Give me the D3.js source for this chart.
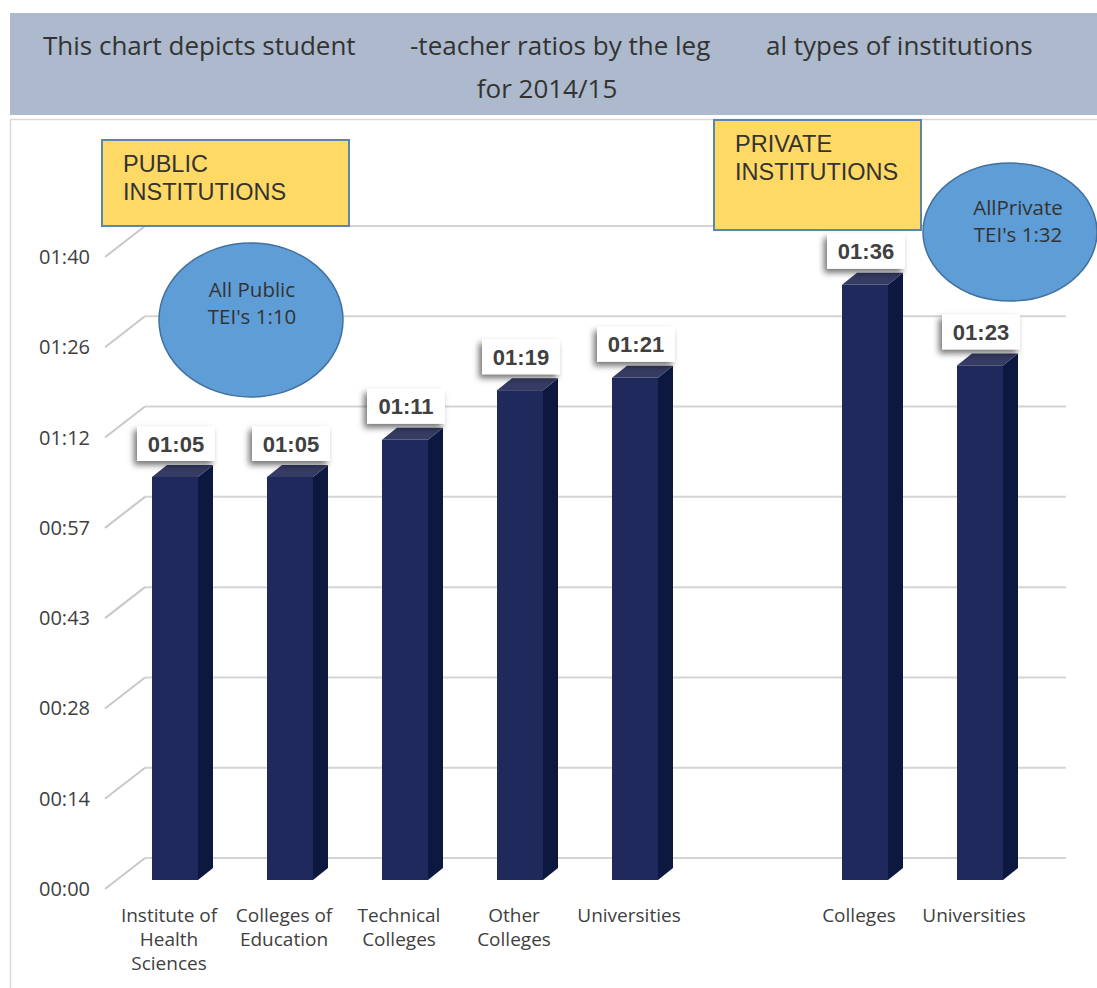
<!DOCTYPE html>
<html>
<head>
<meta charset="utf-8">
<script src="https://cdn.jsdelivr.net/npm/d3@7/dist/d3.min.js"></script>
<style>
  html, body { margin: 0; padding: 0; background: #ffffff; }
  svg { display: block; }
</style>
</head>
<body>
<svg id="chart" width="1097" height="988"></svg>
<script>
// ---------------- DATA ----------------
const sectors = ["Public", "Public", "Public", "Public", "Public", "Private", "Private"];
const categories = [
  ["Institute of", "Health", "Sciences"],
  ["Colleges of", "Education"],
  ["Technical", "Colleges"],
  ["Other", "Colleges"],
  ["Universities"],
  ["Colleges"],
  ["Universities"]
];
// ratios as shown (formatted by Excel as h:mm), stored in minutes
const values = [65, 65, 71, 79, 81, 96, 83];
// axis ticks (0.01 day steps, in minutes) and their labels
const tickValues = [0, 14.4, 28.8, 43.2, 57.6, 72, 86.4, 100.8];
const tickLabels = ["00:00", "00:14", "00:28", "00:43", "00:57", "01:12", "01:26", "01:40"];
const titleLine1 = ["This chart depicts student", "-teacher ratios by the leg", "al types of institutions"];
const titleLine2 = "for 2014/15";
const groupTitles = [["PUBLIC", "INSTITUTIONS"], ["PRIVATE", "INSTITUTIONS"]];
const totals = [["All Public", "TEI's 1:10"], ["AllPrivate", "TEI's 1:32"]];

// --------------- SETUP ----------------
const svg = d3.select("#chart");
const fmt = m => {
  const h = Math.floor(m / 60), mm = Math.floor(m % 60);
  return String(h).padStart(2, "0") + ":" + String(mm).padStart(2, "0");
};

const rows = values.map((v, i) => ({ key: sectors[i] + "|" + i, sector: sectors[i], lines: categories[i], value: v }));
// domain with an empty slot between the public and private groups
const domain = [];
rows.forEach((r, i) => {
  if (i > 0 && rows[i - 1].sector !== r.sector) domain.push("gap");
  domain.push(r.key);
});

const x = d3.scaleBand().domain(domain).range([117.5, 1037.5]).paddingInner(0.6).paddingOuter(0.3);
const yWall = d3.scaleLinear().domain([0, 100.8]).range([858, 226]);
const yBar = d3.scaleLinear().domain([0, 100.8]).range([880, 880 - 100.8 * 6.2]);

const floorDx = 40, floorDy = 31;     // wall -> front of floor
const depthX = 15, depthY = 12;       // bar depth

const defs = svg.append("defs");
const f = defs.append("filter").attr("id", "shadow").attr("x", "-30%").attr("y", "-30%").attr("width", "160%").attr("height", "180%");
f.append("feDropShadow").attr("dx", -3).attr("dy", 4).attr("stdDeviation", 3)
  .attr("flood-color", "#000").attr("flood-opacity", 0.55);

// --------------- BANNER ----------------
svg.append("rect").attr("x", 10).attr("y", 13).attr("width", 1087).attr("height", 102).attr("fill", "#adb9cc");
const tx = [43, 410, 766];
svg.append("g").selectAll("text").data(titleLine1).join("text")
  .attr("x", (d, i) => tx[i]).attr("y", 55)
  .attr("font-family", "'Open Sans', sans-serif").attr("font-size", 26).attr("fill", "#333")
  .text(d => d);
svg.append("text").attr("x", 547).attr("y", 98).attr("text-anchor", "middle")
  .attr("font-family", "'Open Sans', sans-serif").attr("font-size", 26).attr("fill", "#333")
  .text(titleLine2);

// chart area border
svg.append("rect").attr("x", 10.5).attr("y", 119.5).attr("width", 1100).attr("height", 900)
  .attr("fill", "none").attr("stroke", "#d9d9d9").attr("stroke-width", 1.5);

// --------------- GRID ----------------
const grid = svg.append("g");
grid.selectAll("line.h").data(tickValues).join("line").attr("class", "h")
  .attr("x1", 145).attr("x2", 1066)
  .attr("y1", d => yWall(d)).attr("y2", d => yWall(d))
  .attr("stroke", "#d4d4d4").attr("stroke-width", 2);
grid.selectAll("line.d").data(tickValues).join("line").attr("class", "d")
  .attr("x1", 145 - floorDx).attr("x2", 145)
  .attr("y1", d => yWall(d) + floorDy).attr("y2", d => yWall(d))
  .attr("stroke", "#c8c8c8").attr("stroke-width", 2);
grid.selectAll("text").data(tickValues).join("text")
  .attr("x", 90).attr("y", d => yWall(d) + floorDy).attr("dy", "0.35em")
  .attr("text-anchor", "end")
  .attr("font-family", "'Open Sans', sans-serif").attr("font-size", 20).attr("fill", "#404040")
  .text((d, i) => tickLabels[i]);

// --------------- BARS ----------------
const bw = x.bandwidth();
const bars = svg.append("g").selectAll("g").data(rows).join("g");
bars.append("rect")
  .attr("x", d => x(d.key)).attr("y", d => yBar(d.value))
  .attr("width", bw).attr("height", d => yBar(0) - yBar(d.value))
  .attr("fill", "#1f295b");
bars.append("path")
  .attr("d", d => {
    const x0 = x(d.key) + bw, yt = yBar(d.value), yb = yBar(0);
    return `M${x0},${yt}L${x0 + depthX},${yt - depthY}L${x0 + depthX},${yb - depthY}L${x0},${yb}Z`;
  })
  .attr("fill", "#0d1840");
bars.append("path")
  .attr("d", d => {
    const x0 = x(d.key), yt = yBar(d.value);
    return `M${x0},${yt}L${x0 + bw},${yt}L${x0 + bw + depthX},${yt - depthY}L${x0 + depthX},${yt - depthY}Z`;
  })
  .attr("fill", "#363b63");

// value labels
const lab = bars.append("g").attr("transform", d => `translate(${x(d.key) + bw / 2 + 1},${yBar(d.value) - 51})`);
lab.append("rect").attr("x", -39).attr("y", 0).attr("width", 78).attr("height", 35)
  .attr("fill", "#fff").attr("filter", "url(#shadow)");
lab.append("text").attr("x", 0).attr("y", 25.5).attr("text-anchor", "middle")
  .attr("font-family", "'Liberation Sans', Arial, sans-serif").attr("font-weight", "bold")
  .attr("font-size", 22).attr("fill", "#404040")
  .text(d => fmt(d.value));

// category labels
bars.append("text")
  .attr("transform", d => `translate(${x(d.key) + bw / 2 - 6},922)`)
  .attr("text-anchor", "middle")
  .attr("font-family", "'Open Sans', sans-serif").attr("font-size", 19).attr("fill", "#404040")
  .selectAll("tspan").data(d => d.lines).join("tspan")
  .attr("x", 0).attr("dy", (d, i) => i === 0 ? 0 : 24).text(d => d);

// --------------- ANNOTATIONS ----------------
const boxes = [{ x: 102, y: 140, w: 247, h: 86, tx: 123, ty: 172 }, { x: 714, y: 120, w: 207, h: 110, tx: 735, ty: 152 }];
boxes.forEach((b, i) => {
  svg.append("rect").attr("x", b.x).attr("y", b.y).attr("width", b.w).attr("height", b.h)
    .attr("fill", "#ffd966").attr("stroke", "#5b84b1").attr("stroke-width", 2);
  svg.append("text").attr("font-family", "'Liberation Sans', Arial, sans-serif").attr("font-size", 23.5).attr("fill", "#333")
    .selectAll("tspan").data(groupTitles[i]).join("tspan")
    .attr("x", b.tx).attr("y", (d, j) => b.ty + j * 27.5).text(d => d);
});
const ells = [{ cx: 251, cy: 320, rx: 92, ry: 77, ty: 297, tcx: 252 }, { cx: 1010, cy: 232, rx: 87, ry: 69, ty: 215, tcx: 1018 }];
ells.forEach((e, i) => {
  svg.append("ellipse").attr("cx", e.cx).attr("cy", e.cy).attr("rx", e.rx).attr("ry", e.ry)
    .attr("fill", "#5f9dd6").attr("stroke", "#41719c").attr("stroke-width", 1.5);
  svg.append("text").attr("text-anchor", "middle")
    .attr("font-family", "'Open Sans', sans-serif").attr("font-size", 20.5).attr("fill", "#333")
    .selectAll("tspan").data(totals[i]).join("tspan")
    .attr("x", e.tcx).attr("y", (d, j) => e.ty + j * 27).text(d => d);
});
</script>
</body>
</html>
